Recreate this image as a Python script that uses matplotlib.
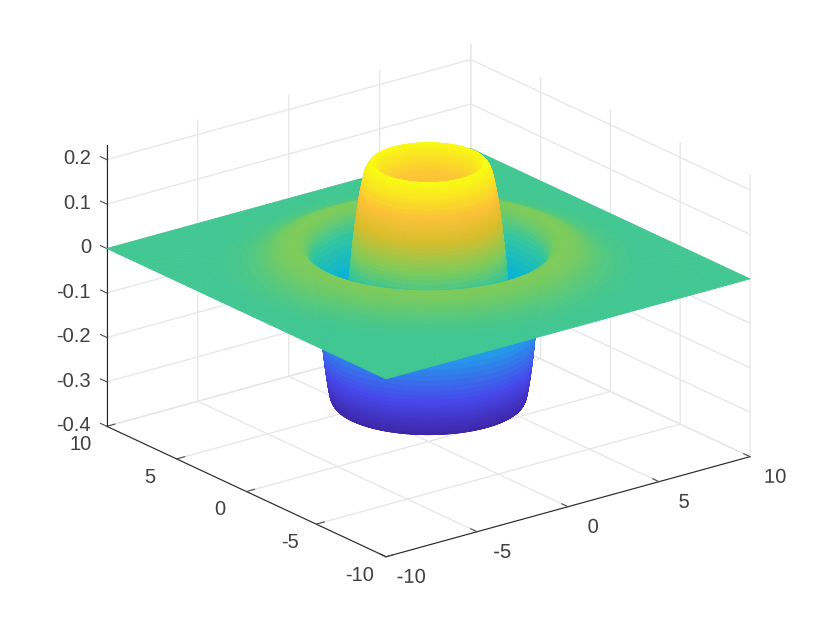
import numpy as np
import matplotlib
matplotlib.use("Agg")
import matplotlib.pyplot as plt
import matplotlib.patheffects as pe
from matplotlib.colors import LinearSegmentedColormap, Normalize

plt.rcParams['font.family'] = ['Liberation Sans', 'DejaVu Sans']

# radial profile (surface is a solid of revolution)
radius = [0.0, 0.4, 0.8, 1.1, 1.4, 1.6, 1.8, 1.9, 2.0, 2.05, 2.1, 2.15, 2.2, 2.25, 2.3, 2.35, 2.4,
          2.5, 2.58, 2.65, 2.7, 2.74, 2.78, 2.82, 2.85, 2.88, 2.92, 2.95, 2.98,
          3.00, 3.02, 3.04, 3.06, 3.08, 3.10, 3.12, 3.14, 3.16, 3.18,
          3.20, 3.22, 3.24, 3.26, 3.28, 3.30, 3.32, 3.34, 3.36, 3.38,
          3.40, 3.42, 3.44, 3.46, 3.48, 3.50, 3.52, 3.54, 3.56, 3.58,
          3.60, 3.62, 3.64, 3.66, 3.68, 3.70, 3.72, 3.74, 3.76, 3.78,
          3.80, 3.825, 3.85, 3.875, 3.9, 3.925, 3.95, 3.975, 4.0, 4.05,
          4.1, 4.15, 4.2, 4.25, 4.275, 4.3, 4.325, 4.35, 4.375, 4.4,
          4.425, 4.45, 4.475, 4.5, 4.525, 4.55, 4.575, 4.6, 4.625, 4.65,
          4.675, 4.7, 4.725, 4.75, 4.775, 4.8, 4.825, 4.85, 4.875, 4.9,
          4.95, 5.0, 5.05, 5.1, 5.15, 5.2, 5.25, 5.3, 5.35, 5.4,
          5.45, 5.5, 5.6, 5.7, 5.8, 5.9, 6.1, 6.25, 6.4, 6.55,
          6.7, 6.85, 7.0, 7.15, 7.3, 7.45, 7.6, 7.9, 8.2, 8.5,
          8.8, 9.1, 9.5]
height = [0.155, 0.156, 0.158, 0.160, 0.163, 0.167, 0.174, 0.180, 0.187, 0.191, 0.196, 0.202, 0.207, 0.213, 0.219, 0.224, 0.227,
          0.226, 0.223, 0.218, 0.214, 0.209, 0.204, 0.197, 0.190, 0.184, 0.174, 0.166, 0.160,
          0.154, 0.148, 0.141, 0.135, 0.128, 0.122, 0.115, 0.107, 0.100, 0.092,
          0.085, 0.077, 0.068, 0.060, 0.052, 0.043, 0.034, 0.025, 0.015, 0.005,
          -0.005, -0.016, -0.027, -0.038, -0.049, -0.060, -0.072, -0.084, -0.097, -0.109,
          -0.122, -0.135, -0.148, -0.162, -0.175, -0.188, -0.200, -0.210, -0.221, -0.231,
          -0.240, -0.251, -0.260, -0.269, -0.276, -0.284, -0.289, -0.294, -0.298, -0.304,
          -0.307, -0.308, -0.306, -0.301, -0.298, -0.293, -0.287, -0.281, -0.274, -0.266,
          -0.258, -0.250, -0.241, -0.232, -0.222, -0.212, -0.202, -0.190, -0.177, -0.165,
          -0.152, -0.140, -0.129, -0.118, -0.108, -0.098, -0.089, -0.080, -0.072, -0.064,
          -0.050, -0.038, -0.026, -0.014, -0.003, 0.008, 0.017, 0.025, 0.030, 0.034,
          0.037, 0.040, 0.042, 0.043, 0.043, 0.043, 0.042, 0.040, 0.038, 0.035,
          0.032, 0.028, 0.024, 0.021, 0.018, 0.015, 0.012, 0.008, 0.005, 0.003,
          0.001, 0.0, 0.0]

ticks_xy = [-10, -5, 0, 5, 10]
labels_xy = ['-10', '-5', '0', '5', '10']
ticks_z = [-0.4, -0.3, -0.2, -0.1, 0, 0.1, 0.2]
labels_z = ['-0.4', '-0.3', '-0.2', '-0.1', '0', '0.1', '0.2']

parula_stops = [0.0, 0.14, 0.31, 0.42, 0.555, 0.66, 0.78, 0.875, 1.0]
parula_colors = [(0.2422, 0.1504, 0.6603), (0.2810, 0.2800, 0.9200), (0.1540, 0.5902, 0.9218),
                 (0.0297, 0.7082, 0.8163), (0.1938, 0.7758, 0.6251), (0.5044, 0.7993, 0.3480),
                 (0.8491, 0.7440, 0.1730), (0.9932, 0.7600, 0.2200), (0.9769, 0.9839, 0.0805)]
parula = LinearSegmentedColormap.from_list('parula', list(zip(parula_stops, parula_colors)), N=512)

fig = plt.figure(figsize=(8.3, 6.23), dpi=100)
ax = fig.add_axes([0.006, 0.004, 1.0, 1.0], projection='3d')
ax.set_proj_type('ortho')
ax.view_init(elev=21, azim=-127.5)
ax.set_box_aspect((1, 1, 0.658), zoom=1.115)

# polar mesh, last ring pushed out on to the square edge
theta = np.linspace(0, 2 * np.pi, 361)
r = np.array(radius)
z = np.array(height)
R, T = np.meshgrid(r, theta)
X = R * np.cos(T)
Y = R * np.sin(T)
Z = np.tile(z, (len(theta), 1))
edge = 10 / np.maximum(np.abs(np.cos(theta)), np.abs(np.sin(theta)))
X = np.column_stack([X, edge * np.cos(theta)])
Y = np.column_stack([Y, edge * np.sin(theta)])
Z = np.column_stack([Z, np.zeros(len(theta))])

norm = Normalize(-0.308, 0.228)
surf = ax.plot_surface(X, Y, Z, rstride=1, cstride=1, facecolors=parula(norm(Z)),
                       shade=False, linewidth=0.5, antialiased=True)
surf.set_clip_on(False)

ax.set_xlim(-10, 10)
ax.set_ylim(-10, 10)
ax.set_zlim(-0.4, 0.234)
ax.set_xticks(ticks_xy)
ax.set_xticklabels(labels_xy)
ax.set_yticks(ticks_xy)
ax.set_yticklabels(labels_xy)
ax.set_zticks(ticks_z)
ax.set_zticklabels(labels_z)
ax.zaxis._axinfo['juggled'] = (1, 2, 0)
ax.zaxis.set_ticks_position('lower')

for axis in (ax.xaxis, ax.yaxis, ax.zaxis):
    axis.pane.set_visible(False)
    axis.line.set_color((0.15, 0.15, 0.15))
    axis.line.set_linewidth(0.8)
    axis._axinfo['grid']['color'] = (0.9, 0.9, 0.9)
    axis._axinfo['grid']['linewidth'] = 0.9
    axis._axinfo['tick']['inward_factor'] = 0.0
    axis._axinfo['tick']['outward_factor'] = 0.28

ax.xaxis.set_tick_params(labelsize=14.5, labelcolor=(0.25, 0.25, 0.25), color=(0.3, 0.3, 0.3), pad=13)
ax.yaxis.set_tick_params(labelsize=14.5, labelcolor=(0.25, 0.25, 0.25), color=(0.3, 0.3, 0.3), pad=9)
ax.zaxis.set_tick_params(labelsize=14.5, labelcolor=(0.25, 0.25, 0.25), color=(0.3, 0.3, 0.3), pad=-2.3)

# x labels sit a bit higher than the pad alone can put them
for lab in ax.xaxis.get_ticklabels():
    lab.set_va('bottom')
    lab.set_path_effects([pe.Stroke(offset=(0, 5), linewidth=0)])
for lab in ax.yaxis.get_ticklabels():
    lab.set_va('bottom')
for lab in ax.zaxis.get_ticklabels():
    lab.set_va('center')
    lab.set_ha('right')

fig.savefig('out.png', dpi=100)
